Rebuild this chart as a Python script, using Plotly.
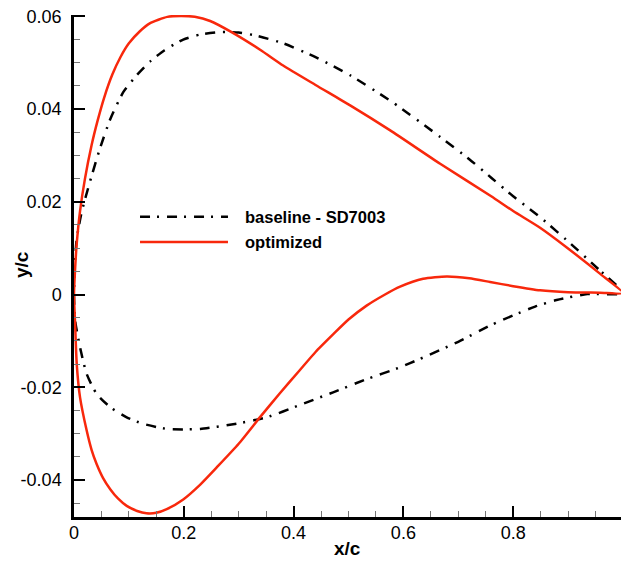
import plotly.graph_objects as go

# ---------------- data ----------------
base_upper_x = [0.0, 0.0015, 0.005, 0.014, 0.029, 0.047, 0.066, 0.09, 0.115, 0.138, 0.165, 0.199, 0.23, 0.266,
                0.30, 0.33, 0.381, 0.44, 0.503, 0.58, 0.667, 0.72, 0.76, 0.80, 0.849, 0.909, 0.955, 1.0]
base_upper_y = [0.0, 0.0065, 0.0120, 0.0178, 0.0243, 0.0314, 0.0378, 0.0437, 0.0474, 0.0502, 0.0527, 0.0550, 0.0561, 0.0566,
                0.0565, 0.0559, 0.0542, 0.0512, 0.0473, 0.0415, 0.0340, 0.0292, 0.0252, 0.0212, 0.0167, 0.0105, 0.0055, 0.0003]
base_lower_x = [0.0, 0.002, 0.011, 0.023, 0.041, 0.066, 0.096, 0.126, 0.169, 0.199, 0.23,
                0.29, 0.351, 0.41, 0.472, 0.53, 0.594, 0.63, 0.70, 0.758, 0.80, 0.84, 0.879, 0.935, 1.0]
base_lower_y = [0.0, -0.0056, -0.0114, -0.0171, -0.0214, -0.0243, -0.0265, -0.0279, -0.0290, -0.0291, -0.0290,
                -0.0280, -0.0265, -0.0239, -0.0211, -0.0184, -0.0157, -0.0139, -0.0102, -0.0067, -0.0045, -0.0026, -0.0012, 0.0001, 0.0003]

opt_upper_x = [0.0, 0.002, 0.005, 0.011, 0.020, 0.032, 0.043, 0.055, 0.07, 0.085, 0.10, 0.12, 0.138, 0.17, 0.195, 0.22,
               0.248, 0.287, 0.339, 0.381, 0.44, 0.503, 0.576, 0.667, 0.76, 0.80, 0.849, 0.897, 0.958, 1.0]
opt_upper_y = [0.0, 0.0055, 0.0110, 0.0180, 0.0250, 0.0322, 0.0375, 0.0425, 0.0475, 0.0513, 0.0542, 0.0568, 0.0585, 0.0599, 0.0601, 0.0599,
               0.0590, 0.0566, 0.0528, 0.0494, 0.0452, 0.0408, 0.0354, 0.0282, 0.0212, 0.0180, 0.0144, 0.0102, 0.0045, 0.0003]
opt_lower_x = [0.0, 0.002, 0.005, 0.011, 0.023, 0.032, 0.041, 0.053, 0.066, 0.08, 0.096, 0.115, 0.132, 0.15, 0.169, 0.199, 0.23, 0.26,
               0.30, 0.34, 0.375, 0.41, 0.44, 0.472, 0.50, 0.533, 0.565, 0.594, 0.636, 0.679, 0.72, 0.758, 0.80, 0.849, 0.90, 0.958, 1.0]
opt_lower_y = [0.0, -0.0063, -0.0150, -0.0222, -0.0293, -0.0335, -0.0365, -0.0396, -0.0420, -0.0440, -0.0456, -0.0467, -0.0472, -0.0471, -0.0463, -0.0442, -0.0410, -0.0373,
               -0.0322, -0.0263, -0.0213, -0.0165, -0.0124, -0.0086, -0.0054, -0.0024, -0.0001, 0.0017, 0.0034, 0.0039, 0.0035, 0.0027, 0.0018, 0.0009, 0.0005, 0.0004, 0.0003]

x_tick_vals = [0, 0.2, 0.4, 0.6, 0.8, 1.0]
x_tick_text = ["0", "0.2", "0.4", "0.6", "0.8", "1"]
y_tick_vals = [-0.04, -0.02, 0, 0.02, 0.04, 0.06]
y_tick_text = ["-0.04", "-0.02", "0", "0.02", "0.04", "0.06"]

series_names = ["baseline - SD7003", "optimized"]

# ---------------- figure ----------------
RED = "#f8280c"
FONT = "Liberation Sans, Arial, sans-serif"
DASHDOT = "10px,7px,2px,8px"

def closed(ux, uy, lx, ly):
    return ux[::-1] + lx[1:], uy[::-1] + ly[1:]

bx, by = closed(base_upper_x, base_upper_y, base_lower_x, base_lower_y)
ox, oy = closed(opt_upper_x, opt_upper_y, opt_lower_x, opt_lower_y)

fig = go.Figure()
fig.add_trace(go.Scatter(x=bx, y=by, mode="lines", name=series_names[0], showlegend=False,
                         line=dict(color="black", width=2.5, dash=DASHDOT, shape="spline", smoothing=0.6)))
fig.add_trace(go.Scatter(x=ox, y=oy, mode="lines", name=series_names[1], showlegend=False,
                         line=dict(color=RED, width=2.5, shape="spline", smoothing=0.6)))

# custom legend (line samples + labels, in paper coordinates)
legend_rows = [(0.598, dict(color="black", width=2.5, dash=DASHDOT)),
               (0.548, dict(color=RED, width=2.5))]
for (yy, ln), name in zip(legend_rows, series_names):
    fig.add_shape(type="line", xref="paper", yref="paper", x0=0.1207, x1=0.2815, y0=yy, y1=yy, line=ln)
    fig.add_annotation(xref="paper", yref="paper", x=0.309, y=yy, text="<b>%s</b>" % name,
                       showarrow=False, xanchor="left", yanchor="middle",
                       font=dict(family=FONT, size=16.5, color="black"))

# axis titles
fig.add_annotation(xref="paper", yref="paper", x=0.5, y=-0.062, text="<b>x/c</b>", showarrow=False,
                   xanchor="center", yanchor="middle", font=dict(family=FONT, size=19, color="black"))
fig.add_annotation(xref="paper", yref="paper", x=-0.095, y=0.502, text="<b>y/c</b>", showarrow=False,
                   textangle=-90, xanchor="center", yanchor="middle",
                   font=dict(family=FONT, size=19, color="black"))

axis_common = dict(showline=True, linecolor="black", linewidth=2.5, mirror=False, showgrid=False,
                   zeroline=False, ticks="inside", ticklen=11, tickwidth=2, tickcolor="black",
                   tickfont=dict(family=FONT, size=18, color="black"))

fig.update_xaxes(range=[0, 0.9964], tickmode="array", tickvals=x_tick_vals, ticktext=x_tick_text,
                 ticklabelstandoff=-2,
                 minor=dict(dtick=0.05, tick0=0, ticks="inside", ticklen=6, tickwidth=1, tickcolor="#777"),
                 **axis_common)
fig.update_yaxes(range=[-0.048, 0.0603], tickmode="array", tickvals=y_tick_vals, ticktext=y_tick_text,
                 ticklabelstandoff=6,
                 minor=dict(dtick=0.005, tick0=0, ticks="inside", ticklen=6, tickwidth=1, tickcolor="#777"),
                 **axis_common)

fig.update_layout(width=621, height=565, margin=dict(l=74, r=0, t=15, b=48),
                  plot_bgcolor="white", paper_bgcolor="white", showlegend=False)

fig.write_html("out.html", config={"displayModeBar": False},
               post_script="document.body.style.margin='0px';document.body.style.overflow='hidden';")
